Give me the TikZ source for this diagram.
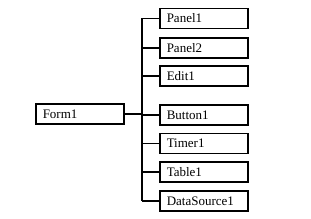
\documentclass[tikz,border=0pt]{standalone}
\usepackage{fontspec}
\setmainfont{Liberation Serif}

\begin{document}
\begin{tikzpicture}[x=1pt,y=-1pt,
    box/.style={draw,line width=1.5pt,anchor=west,minimum height=20pt,
      text width=74pt,inner xsep=7pt,inner ysep=0pt,align=left,
      font=\fontsize{13}{15}\selectfont},
    link/.style={line width=1.5pt}]
  \useasboundingbox (0,0) rectangle (311,219);

  % parent
  \node[box] (form) at (35,114) {Form1};

  % children
  \node[box] (panel1) at (159,18.5) {Panel1};
  \node[box] (panel2) at (159,48) {Panel2};
  \node[box] (edit1) at (159,76) {Edit1};
  \node[box] (button1) at (159,115) {Button1};
  \node[box] (timer1) at (159,143.5) {Timer1};
  \node[box] (table1) at (159,172) {Table1};
  \node[box] (datasource1) at (159,201) {DataSource1};

  % bus
  \coordinate (bustop) at (142,18.5);
  \coordinate (busbot) at (142,201);
  \draw[link] (bustop) -- (busbot);
  \draw[link] (form.east) -- (bustop |- form.east);
  \foreach \n in {panel1,panel2,edit1,button1,timer1,table1,datasource1}
    \draw[link] (bustop |- \n.west) -- (\n.west);
\end{tikzpicture}
\end{document}
